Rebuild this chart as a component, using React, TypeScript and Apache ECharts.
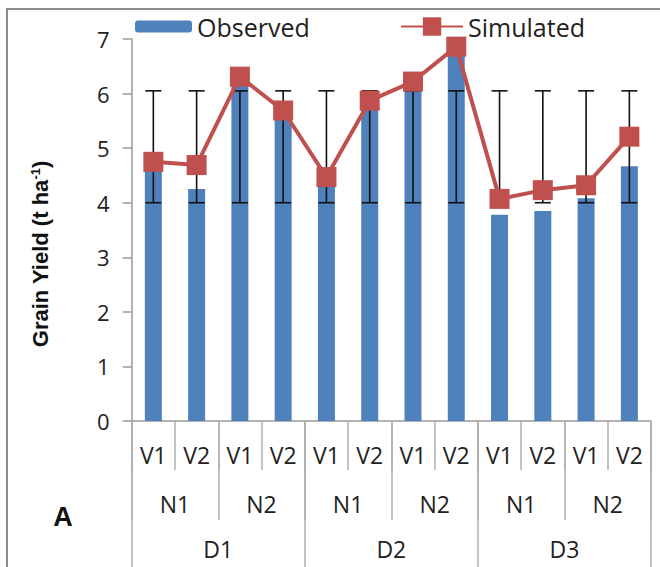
import React, { useEffect, useRef } from "react";
import * as echarts from "echarts";

const varieties = ["V1", "V2", "V1", "V2", "V1", "V2", "V1", "V2", "V1", "V2", "V1", "V2"];
const nitrogen = ["N1", "N2", "N1", "N2", "N1", "N2"];
const dates = ["D1", "D2", "D3"];
const observed = [4.6, 4.25, 6.15, 5.57, 4.3, 5.75, 6.1, 6.72, 3.78, 3.85, 4.08, 4.67];
const simulated = [4.75, 4.69, 6.31, 5.69, 4.47, 5.87, 6.22, 6.86, 4.07, 4.23, 4.32, 5.21];
const errLow = [4.0, 4.0, 4.0, 4.0, 4.0, 4.0, 4.0, 4.0, 4.0, 4.0, 4.0, 4.0];
const errHigh = [6.05, 6.05, 6.05, 6.05, 6.05, 6.05, 6.05, 6.05, 6.05, 6.05, 6.05, 6.05];
const yTicks = { min: 0, max: 7, interval: 1 };

const FONT = "'Open Sans', 'Liberation Sans', sans-serif";
const BOLD_FONT = "'Liberation Sans', Arial, sans-serif";
const BLUE = "#4F81BD";
const RED = "#C0504D";
const AXIS_GREY = "#9a9a9a";

export default function App() {
  const ref = useRef<HTMLDivElement>(null);

  useEffect(() => {
    if (!ref.current) return;
    const chart = echarts.init(ref.current, null, { renderer: "svg" });

    const catAxis = (data: string[], tickLen: number, labelMargin: number, showLine: boolean) => ({
      type: "category",
      data,
      position: "bottom",
      offset: 0,
      boundaryGap: true,
      axisLine: { show: showLine, lineStyle: { color: AXIS_GREY, width: 1.5 } },
      axisTick: {
        show: true,
        interval: 0,
        alignWithLabel: false,
        length: tickLen,
        lineStyle: { color: "#b0b0b0", width: 1.5 },
      },
      axisLabel: {
        interval: 0,
        margin: labelMargin,
        verticalAlign: "middle",
        fontSize: 23,
        lineHeight: 22,
        fontFamily: FONT,
        color: "#222",
      },
      splitLine: { show: false },
    });

    const option: any = {
      animation: false,
      backgroundColor: "#ffffff",
      grid: { left: 131.7, right: 9, top: 39, bottom: 146, containLabel: false },
      legend: [
        {
          data: ["Observed"],
          left: 135,
          top: 14,
          padding: 0,
          itemWidth: 57,
          itemHeight: 12,
          textStyle: { fontSize: 25, fontFamily: FONT, color: "#222" },
        },
        {
          data: ["Simulated"],
          right: 75,
          top: 14,
          padding: 0,
          itemWidth: 62,
          itemHeight: 23,
          textStyle: { fontSize: 25, fontFamily: FONT, color: "#222" },
        },
      ],
      xAxis: [
        catAxis(varieties, 49, 34, true),
        catAxis(nitrogen, 99, 83, false),
        catAxis(dates, 150, 128, false),
      ],
      yAxis: {
        type: "value",
        min: yTicks.min,
        max: yTicks.max,
        interval: yTicks.interval,
        axisLine: { show: true, lineStyle: { color: AXIS_GREY, width: 1.5 } },
        axisTick: { show: true, inside: false, length: 9, lineStyle: { color: AXIS_GREY, width: 1.5 } },
        splitLine: { show: false },
        axisLabel: { fontSize: 22, fontFamily: FONT, color: "#222", margin: 22 },
      },
      series: [
        {
          name: "Observed",
          type: "bar",
          xAxisIndex: 0,
          data: observed,
          barWidth: 17,
          itemStyle: { color: BLUE },
          z: 2,
        },
        {
          name: "Error",
          type: "custom",
          xAxisIndex: 0,
          data: observed.map((_, i) => [i, errLow[i], errHigh[i]]),
          renderItem: (params: any, api: any) => {
            const idx = api.value(0);
            const lo = api.coord([idx, api.value(1)]);
            const hi = api.coord([idx, api.value(2)]);
            const hw = 8;
            const style = { stroke: "#111", lineWidth: 1.6 };
            return {
              type: "group",
              children: [
                { type: "line", shape: { x1: lo[0], y1: lo[1], x2: hi[0], y2: hi[1] }, style },
                { type: "line", shape: { x1: lo[0] - hw, y1: lo[1], x2: lo[0] + hw, y2: lo[1] }, style },
                { type: "line", shape: { x1: hi[0] - hw, y1: hi[1], x2: hi[0] + hw, y2: hi[1] }, style },
              ],
            };
          },
          z: 3,
          silent: true,
        },
        {
          name: "Simulated",
          type: "line",
          xAxisIndex: 0,
          data: simulated,
          symbol: "rect",
          symbolSize: 20,
          lineStyle: { color: RED, width: 4 },
          itemStyle: { color: RED },
          z: 4,
        },
      ],
      graphic: [
        {
          type: "rect",
          shape: { x: 7, y: 9, width: 720, height: 640 },
          style: { fill: "none", stroke: "#8c8c8c", lineWidth: 2 },
          silent: true,
          z: 10,
        },
        {
          type: "text",
          x: 40,
          y: 254,
          rotation: Math.PI / 2,
          style: {
            text: "{a|Grain Yield (t ha}{s|-1}{a|)}",
            align: "center",
            verticalAlign: "middle",
            rich: {
              a: { fontSize: 22, fontWeight: "bold", fontFamily: BOLD_FONT, fill: "#111" },
              s: { fontSize: 13, fontWeight: "bold", fontFamily: BOLD_FONT, fill: "#111", verticalAlign: "top", padding: [0, 0, 8, 0] },
            },
          },
        },
        {
          type: "text",
          x: 63,
          y: 517,
          style: {
            text: "A",
            fontSize: 27,
            fontWeight: "bold",
            fontFamily: BOLD_FONT,
            fill: "#111",
            align: "center",
            verticalAlign: "middle",
          },
        },
      ],
    };

    chart.setOption(option);
    return () => chart.dispose();
  }, []);

  return (
    <div
      ref={ref}
      style={{ position: "absolute", left: 0, top: 0, width: 660, height: 567 }}
    />
  );
}
